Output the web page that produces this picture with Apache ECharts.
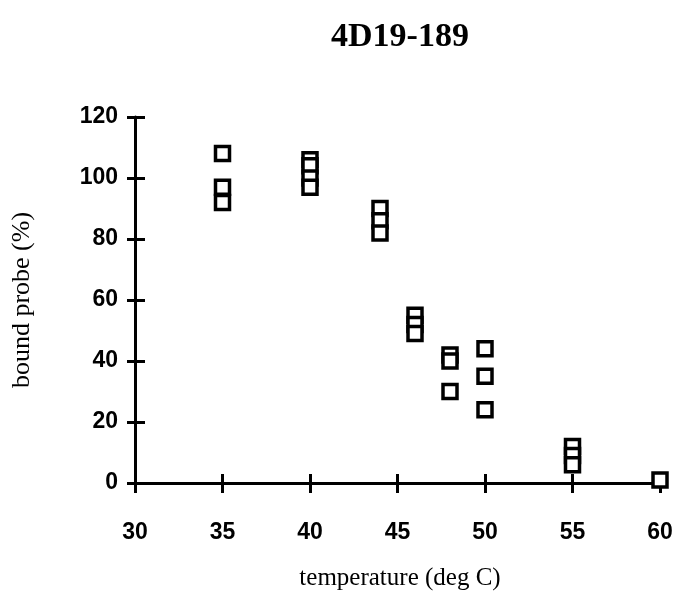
<!DOCTYPE html>
<html>
<head>
<meta charset="utf-8">
<script src="https://cdn.jsdelivr.net/npm/echarts@6/dist/echarts.min.js"></script>
<style>
  html, body { margin: 0; padding: 0; background: #fff; }
  #chart { width: 682px; height: 596px; }
</style>
</head>
<body>
<div id="chart"></div>
<script>
// temperature (deg C) of each measurement and the bound probe (%)
const temps = [35, 35, 35, 40, 40, 40, 40, 44, 44, 44, 46, 46, 46, 48, 48, 48, 50, 50, 50, 55, 55, 55, 60];
const bound = [108, 97, 92, 106, 104, 100, 97, 90, 86, 82, 55, 52, 49, 42, 40, 30, 44, 35, 24, 12, 9, 6, 1];

const xTicks = [30, 35, 40, 45, 50, 55, 60];
const yTicks = [0, 20, 40, 60, 80, 100, 120];

const chart = echarts.init(document.getElementById("chart"));

const sans = "Liberation Sans";

const xBase = {
  type: "value",
  position: "bottom",
  min: xTicks[0],
  max: xTicks[xTicks.length - 1],
  interval: 5,
  splitLine: { show: false },
};
const yBase = {
  type: "value",
  position: "left",
  min: yTicks[0],
  max: yTicks[yTicks.length - 1],
  interval: 20,
  splitLine: { show: false },
};

const option = {
  animation: false,
  backgroundColor: "#fff",
  grid: { left: 135, right: 22, top: 117, bottom: 113 },
  xAxis: [
    {
      ...xBase,
      axisLine: { lineStyle: { color: "#000", width: 3 } },
      axisTick: { length: 10, lineStyle: { color: "#000", width: 3 } },
      axisLabel: {
        margin: 38,
        color: "#000",
        fontFamily: sans,
        fontWeight: "bold",
        fontSize: 23,
      },
    },
    {
      // second copy so the ticks cross the axis line
      ...xBase,
      offset: 0,
      axisLine: { show: false },
      axisTick: { inside: true, length: 9, lineStyle: { color: "#000", width: 3 } },
      axisLabel: { show: false },
    },
  ],
  yAxis: [
    {
      ...yBase,
      axisLine: { lineStyle: { color: "#000", width: 3 } },
      axisTick: { length: 8, lineStyle: { color: "#000", width: 3 } },
      axisLabel: {
        margin: 17,
        color: "#000",
        fontFamily: sans,
        fontWeight: "bold",
        fontSize: 23,
      },
    },
    {
      ...yBase,
      offset: 0,
      axisLine: { show: false },
      axisTick: { inside: true, length: 10, lineStyle: { color: "#000", width: 3 } },
      axisLabel: { show: false },
    },
  ],
  graphic: [
    {
      type: "text",
      x: 400,
      y: 37,
      style: {
        text: "4D19-189",
        font: "bold 34px 'Liberation Serif'",
        fill: "#000",
        align: "center",
        verticalAlign: "middle",
      },
    },
    {
      type: "text",
      x: 22,
      y: 300,
      rotation: Math.PI / 2,
      style: {
        text: "bound probe (%)",
        font: "26px 'Liberation Serif'",
        fill: "#000",
        align: "center",
        verticalAlign: "middle",
      },
    },
    {
      type: "text",
      x: 400,
      y: 578,
      style: {
        text: "temperature (deg C)",
        font: "25px 'Liberation Serif'",
        fill: "#000",
        align: "center",
        verticalAlign: "middle",
      },
    },
  ],
  series: [
    {
      type: "scatter",
      data: temps.map((t, i) => [t, bound[i]]),
      symbol: "rect",
      symbolSize: 14,
      itemStyle: { color: "#fff", borderColor: "#000", borderWidth: 3.5, opacity: 1 },
      z: 5,
    },
  ],
};

chart.setOption(option);
</script>
</body>
</html>
